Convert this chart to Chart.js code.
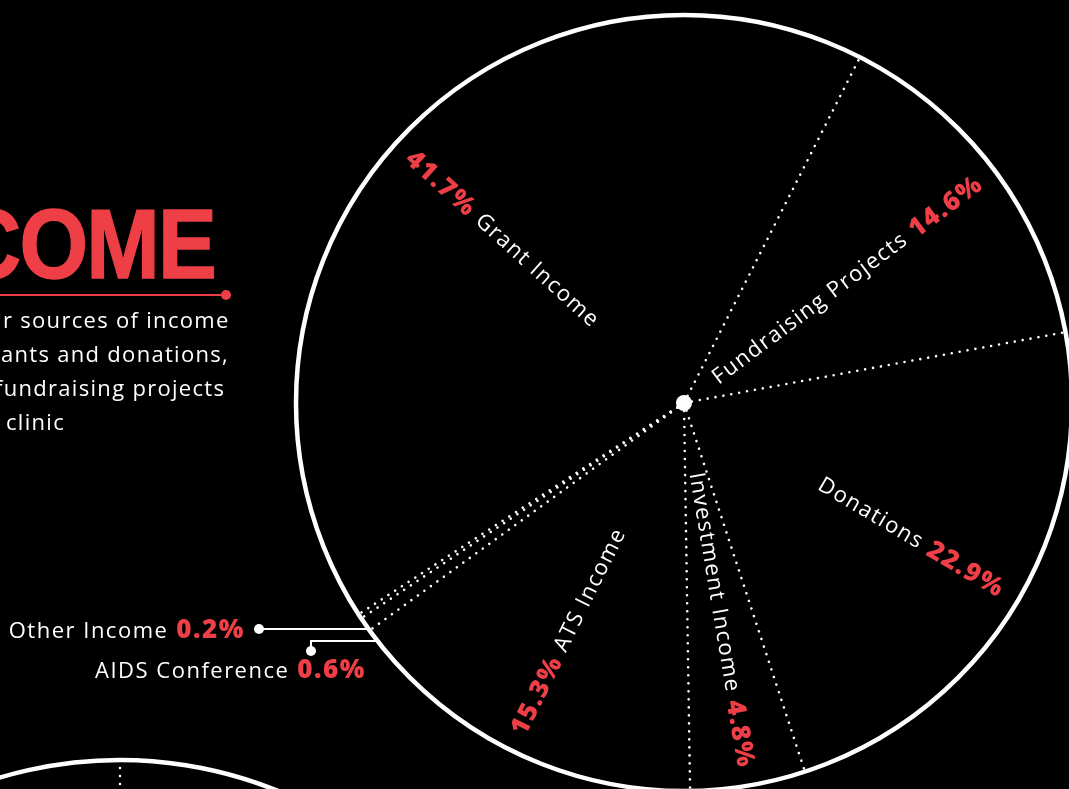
<!DOCTYPE html>
<html>
<head>
<meta charset="utf-8">
<script src="https://cdn.jsdelivr.net/npm/chart.js@4/dist/chart.umd.min.js"></script>
<style>
  html, body { margin:0; padding:0; background:#000; width:1069px; height:789px; overflow:hidden; }
  #wrap { position:absolute; left:0; top:0; width:1100px; height:800px; }
  #title { position:absolute; right:854px; top:196px; font-family:"Liberation Sans", Arial, sans-serif; font-weight:bold;
           font-size:98px; line-height:97px; color:#ee3f47; white-space:nowrap; letter-spacing:-2px;
           transform:scaleX(0.9); transform-origin:right center; -webkit-text-stroke:1.5px #ee3f47; }
  #rule { position:absolute; left:0; top:294px; width:224px; height:2px; background:#ee3f47; }
  #ruleDot { position:absolute; left:221px; top:290px; width:10px; height:10px; border-radius:50%; background:#ee3f47; }
  .para { position:absolute; font-family:"Open Sans", sans-serif; font-size:22px; letter-spacing:1.3px; color:#fff; white-space:nowrap; line-height:34px; }
</style>
</head>
<body>
<div id="wrap"><canvas id="c" width="1100" height="800"></canvas></div>
<div id="title">INCOME</div>
<div id="rule"></div><div id="ruleDot"></div>
<div class="para" style="left:3px;top:302px;">r sources of income</div>
<div class="para" style="left:1px;top:336px;">ants and donations,</div>
<div class="para" style="left:-5px;top:370px;">fundraising projects</div>
<div class="para" style="left:6px;top:404px;">clinic</div>
<script>
const categories = ['Grant Income', 'Fundraising Projects', 'Donations', 'Investment Income', 'ATS Income', 'AIDS Conference', 'Other Income'];
const shares = [41.7, 14.6, 22.9, 4.8, 15.3, 0.6, 0.2];
const shareLabels = ['41.7%', '14.6%', '22.9%', '4.8%', '15.3%', '0.6%', '0.2%'];
const insideSlices = [0, 1, 2, 3, 4];

const RED = '#ee3f47';
const WHITE = '#ffffff';
const LABEL_FONT = '22px "Open Sans", sans-serif';
const PCT_FONT = '800 26px "Open Sans", sans-serif';

function dotted(ctx, x1, y1, x2, y2) {
  ctx.save();
  ctx.strokeStyle = WHITE;
  ctx.lineWidth = 2.6;
  ctx.lineCap = 'round';
  ctx.setLineDash([0.01, 8]);
  ctx.beginPath(); ctx.moveTo(x1, y1); ctx.lineTo(x2, y2); ctx.stroke();
  ctx.restore();
}

const piePlugin = {
  id: 'piePlugin',
  afterDatasetsDraw(chart) {
    const ctx = chart.ctx;
    const arcs = chart.getDatasetMeta(0).data;
    const cx = arcs[0].x, cy = arcs[0].y, R = arcs[0].outerRadius;

    // slice boundaries as dotted radial lines
    arcs.forEach(a => {
      dotted(ctx, cx, cy, cx + R * Math.cos(a.startAngle), cy + R * Math.sin(a.startAngle));
    });

    // outer ring
    ctx.save();
    ctx.strokeStyle = WHITE; ctx.lineWidth = 4.5;
    ctx.beginPath(); ctx.arc(cx, cy, R, 0, Math.PI * 2); ctx.stroke();
    // center dot
    ctx.fillStyle = WHITE;
    ctx.beginPath(); ctx.arc(cx, cy, 8, 0, Math.PI * 2); ctx.fill();
    ctx.restore();

    // radial labels inside slices
    const Rt = R - 18, gap = 8;
    insideSlices.forEach(i => {
      const a = arcs[i];
      const mid = (a.startAngle + a.endAngle) / 2;
      ctx.save();
      ctx.translate(cx, cy);
      ctx.letterSpacing = '1.5px';
      ctx.font = PCT_FONT; const wP = ctx.measureText(shareLabels[i]).width;
      ctx.font = LABEL_FONT; const wL = ctx.measureText(categories[i]).width;
      ctx.textBaseline = 'middle'; ctx.textAlign = 'left';
      if (Math.cos(mid) >= 0) {
        ctx.rotate(mid);
        ctx.font = PCT_FONT; ctx.fillStyle = RED; ctx.fillText(shareLabels[i], Rt - wP, 0);
        ctx.font = LABEL_FONT; ctx.fillStyle = WHITE; ctx.fillText(categories[i], Rt - wP - gap - wL, 0);
      } else {
        ctx.rotate(mid + Math.PI);
        ctx.font = PCT_FONT; ctx.fillStyle = RED; ctx.fillText(shareLabels[i], -Rt, 0);
        ctx.font = LABEL_FONT; ctx.fillStyle = WHITE; ctx.fillText(categories[i], -Rt + wP + gap, 0);
      }
      ctx.restore();
    });

    // external labels for small slices
    const edgeX = y => cx - Math.sqrt(R * R - (y - cy) * (y - cy));
    ctx.save();
    ctx.strokeStyle = WHITE; ctx.fillStyle = WHITE; ctx.lineWidth = 2;
    // Other Income
    let ly = 629;
    ctx.beginPath(); ctx.moveTo(259, ly); ctx.lineTo(edgeX(ly), ly); ctx.stroke();
    ctx.beginPath(); ctx.arc(259, ly, 5, 0, Math.PI * 2); ctx.fill();
    // AIDS Conference
    ly = 641;
    ctx.beginPath(); ctx.moveTo(311, 651); ctx.lineTo(311, ly); ctx.lineTo(edgeX(ly), ly); ctx.stroke();
    ctx.beginPath(); ctx.arc(311, 651, 5, 0, Math.PI * 2); ctx.fill();

    ctx.letterSpacing = '1.5px';
    ctx.textBaseline = 'alphabetic'; ctx.textAlign = 'left';
    const ext = [[6, 245, 638], [5, 366, 678]];
    ext.forEach(([i, right, base]) => {
      ctx.font = PCT_FONT; const wP = ctx.measureText(shareLabels[i]).width;
      ctx.font = LABEL_FONT; const wL = ctx.measureText(categories[i]).width;
      ctx.font = PCT_FONT; ctx.fillStyle = RED; ctx.fillText(shareLabels[i], right - wP, base);
      ctx.font = LABEL_FONT; ctx.fillStyle = WHITE; ctx.fillText(categories[i], right - wP - gap - wL, base);
    });
    ctx.restore();

    // neighbouring (next) chart outline peeking in at bottom-left
    ctx.save();
    ctx.strokeStyle = WHITE; ctx.lineWidth = 4.5;
    ctx.beginPath(); ctx.arc(120, 1180, 420, Math.PI * 1.05, Math.PI * 1.95); ctx.stroke();
    ctx.restore();
    dotted(ctx, 120, 768, 120, 800);
  }
};

new Chart(document.getElementById('c'), {
  type: 'pie',
  data: {
    labels: categories,
    datasets: [{ data: shares, backgroundColor: '#000', borderWidth: 0 }]
  },
  options: {
    responsive: false,
    animation: false,
    rotation: -123,
    layout: { padding: { left: 296, right: 28, top: 15, bottom: 9 } },
    plugins: { legend: { display: false }, tooltip: { enabled: false } },
    events: []
  },
  plugins: [piePlugin]
});
</script>
</body>
</html>
